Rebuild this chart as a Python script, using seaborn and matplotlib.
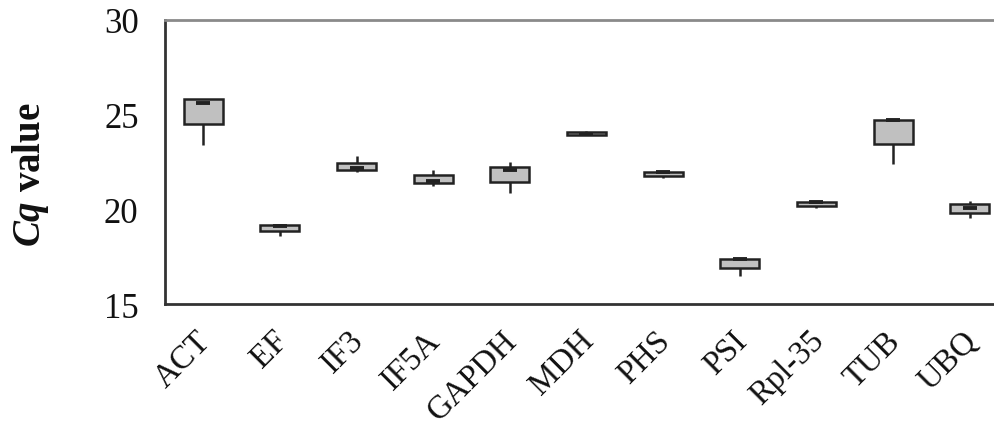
import numpy as np
import pandas as pd
import matplotlib
matplotlib.use("Agg")
import matplotlib.pyplot as plt
import matplotlib.transforms as mtransforms
import seaborn as sns

# Cq distributions per reference gene
GENES    = ["ACT", "EF", "IF3", "IF5A", "GAPDH", "MDH", "PHS", "PSI", "Rpl-35", "TUB", "UBQ"]
WHISK_LO = [23.41, 18.57, 21.99, 21.21, 20.86, 23.91, 21.64, 16.46, 20.05, 22.39, 19.54]
Q1       = [24.49, 18.87, 22.09, 21.37, 21.43, 23.91, 21.78, 16.90, 20.17, 23.47, 19.82]
MEDIAN   = [25.63, 19.10, 22.20, 21.48, 22.06, 24.00, 21.98, 17.40, 20.40, 24.70, 20.07]
Q3       = [25.83, 19.17, 22.46, 21.81, 22.25, 24.08, 21.97, 17.34, 20.39, 24.65, 20.26]
WHISK_HI = [25.83, 19.22, 22.83, 22.09, 22.48, 24.15, 22.02, 17.43, 20.42, 24.72, 20.44]
Y_TICKS  = [15, 20, 25, 30]

rows = []
for g, lo, a, m, b, hi in zip(GENES, WHISK_LO, Q1, MEDIAN, Q3, WHISK_HI):
    for v in sorted([lo, a, m, b, hi]):
        rows.append({"gene": g, "cq": v})
df = pd.DataFrame(rows)

sns.set_style("white")
plt.rcParams.update({
    "font.family": ["Liberation Serif", "DejaVu Serif"],
    "mathtext.fontset": "custom",
    "mathtext.rm": "Liberation Serif",
    "mathtext.it": "Liberation Serif:italic",
    "mathtext.bf": "Liberation Serif:bold",
    "mathtext.bfit": "Liberation Serif:bold:italic",
})

fig = plt.figure(figsize=(9.95, 4.27), dpi=100)
ax = fig.add_axes([165 / 995, 122 / 427, 843 / 995, 284 / 427])

sns.boxplot(
    data=df, x="gene", y="cq", order=GENES,
    whis=(0, 100), width=0.51, color="#c0c0c0", saturation=1,
    linecolor="#222222", linewidth=1.8, showcaps=False,
    medianprops={"visible": False}, fliersize=0, ax=ax,
)
# short thick median dash
ax.scatter(np.arange(len(GENES)), MEDIAN, marker="_", s=90,
           linewidths=2.8, color="#222222", zorder=5)

ax.set_xlim(-0.5, len(GENES) - 0.5)
ax.set_ylim(15, 30)
ax.set_yticks(Y_TICKS)
ax.set_xticks(np.arange(len(GENES)))
ax.set_xticklabels(GENES, rotation=45, ha="right", rotation_mode="anchor")
ax.set_xticks(np.arange(-0.5, len(GENES)), minor=True)
ax.tick_params(axis="x", which="major", length=0, pad=15, labelsize=23.5,
               labelcolor="#111111")
ax.tick_params(axis="x", which="minor", length=9, width=1.5, color="#333333", direction="out")
ax.tick_params(axis="y", length=9, width=1.5, color="#333333", direction="out",
               pad=10, labelsize=25, labelcolor="#111111")
shift = mtransforms.ScaledTranslation(-8 / 100, 0, fig.dpi_scale_trans)
for lab in ax.get_xticklabels():
    lab.set_transform(lab.get_transform() + shift)

for side in ["left", "bottom"]:
    ax.spines[side].set_color("#333333")
    ax.spines[side].set_linewidth(2)
ax.spines["top"].set_color("#8a8a8a")
ax.spines["top"].set_linewidth(2)
ax.spines["right"].set_color("#8a8a8a")

ax.set_xlabel("")
ax.set_ylabel(r"$\mathbfit{Cq}$ value", fontsize=28, fontweight="bold", color="#111111")
ax.yaxis.set_label_coords(-0.135, 0.458)

fig.savefig("out.png", dpi=100)
